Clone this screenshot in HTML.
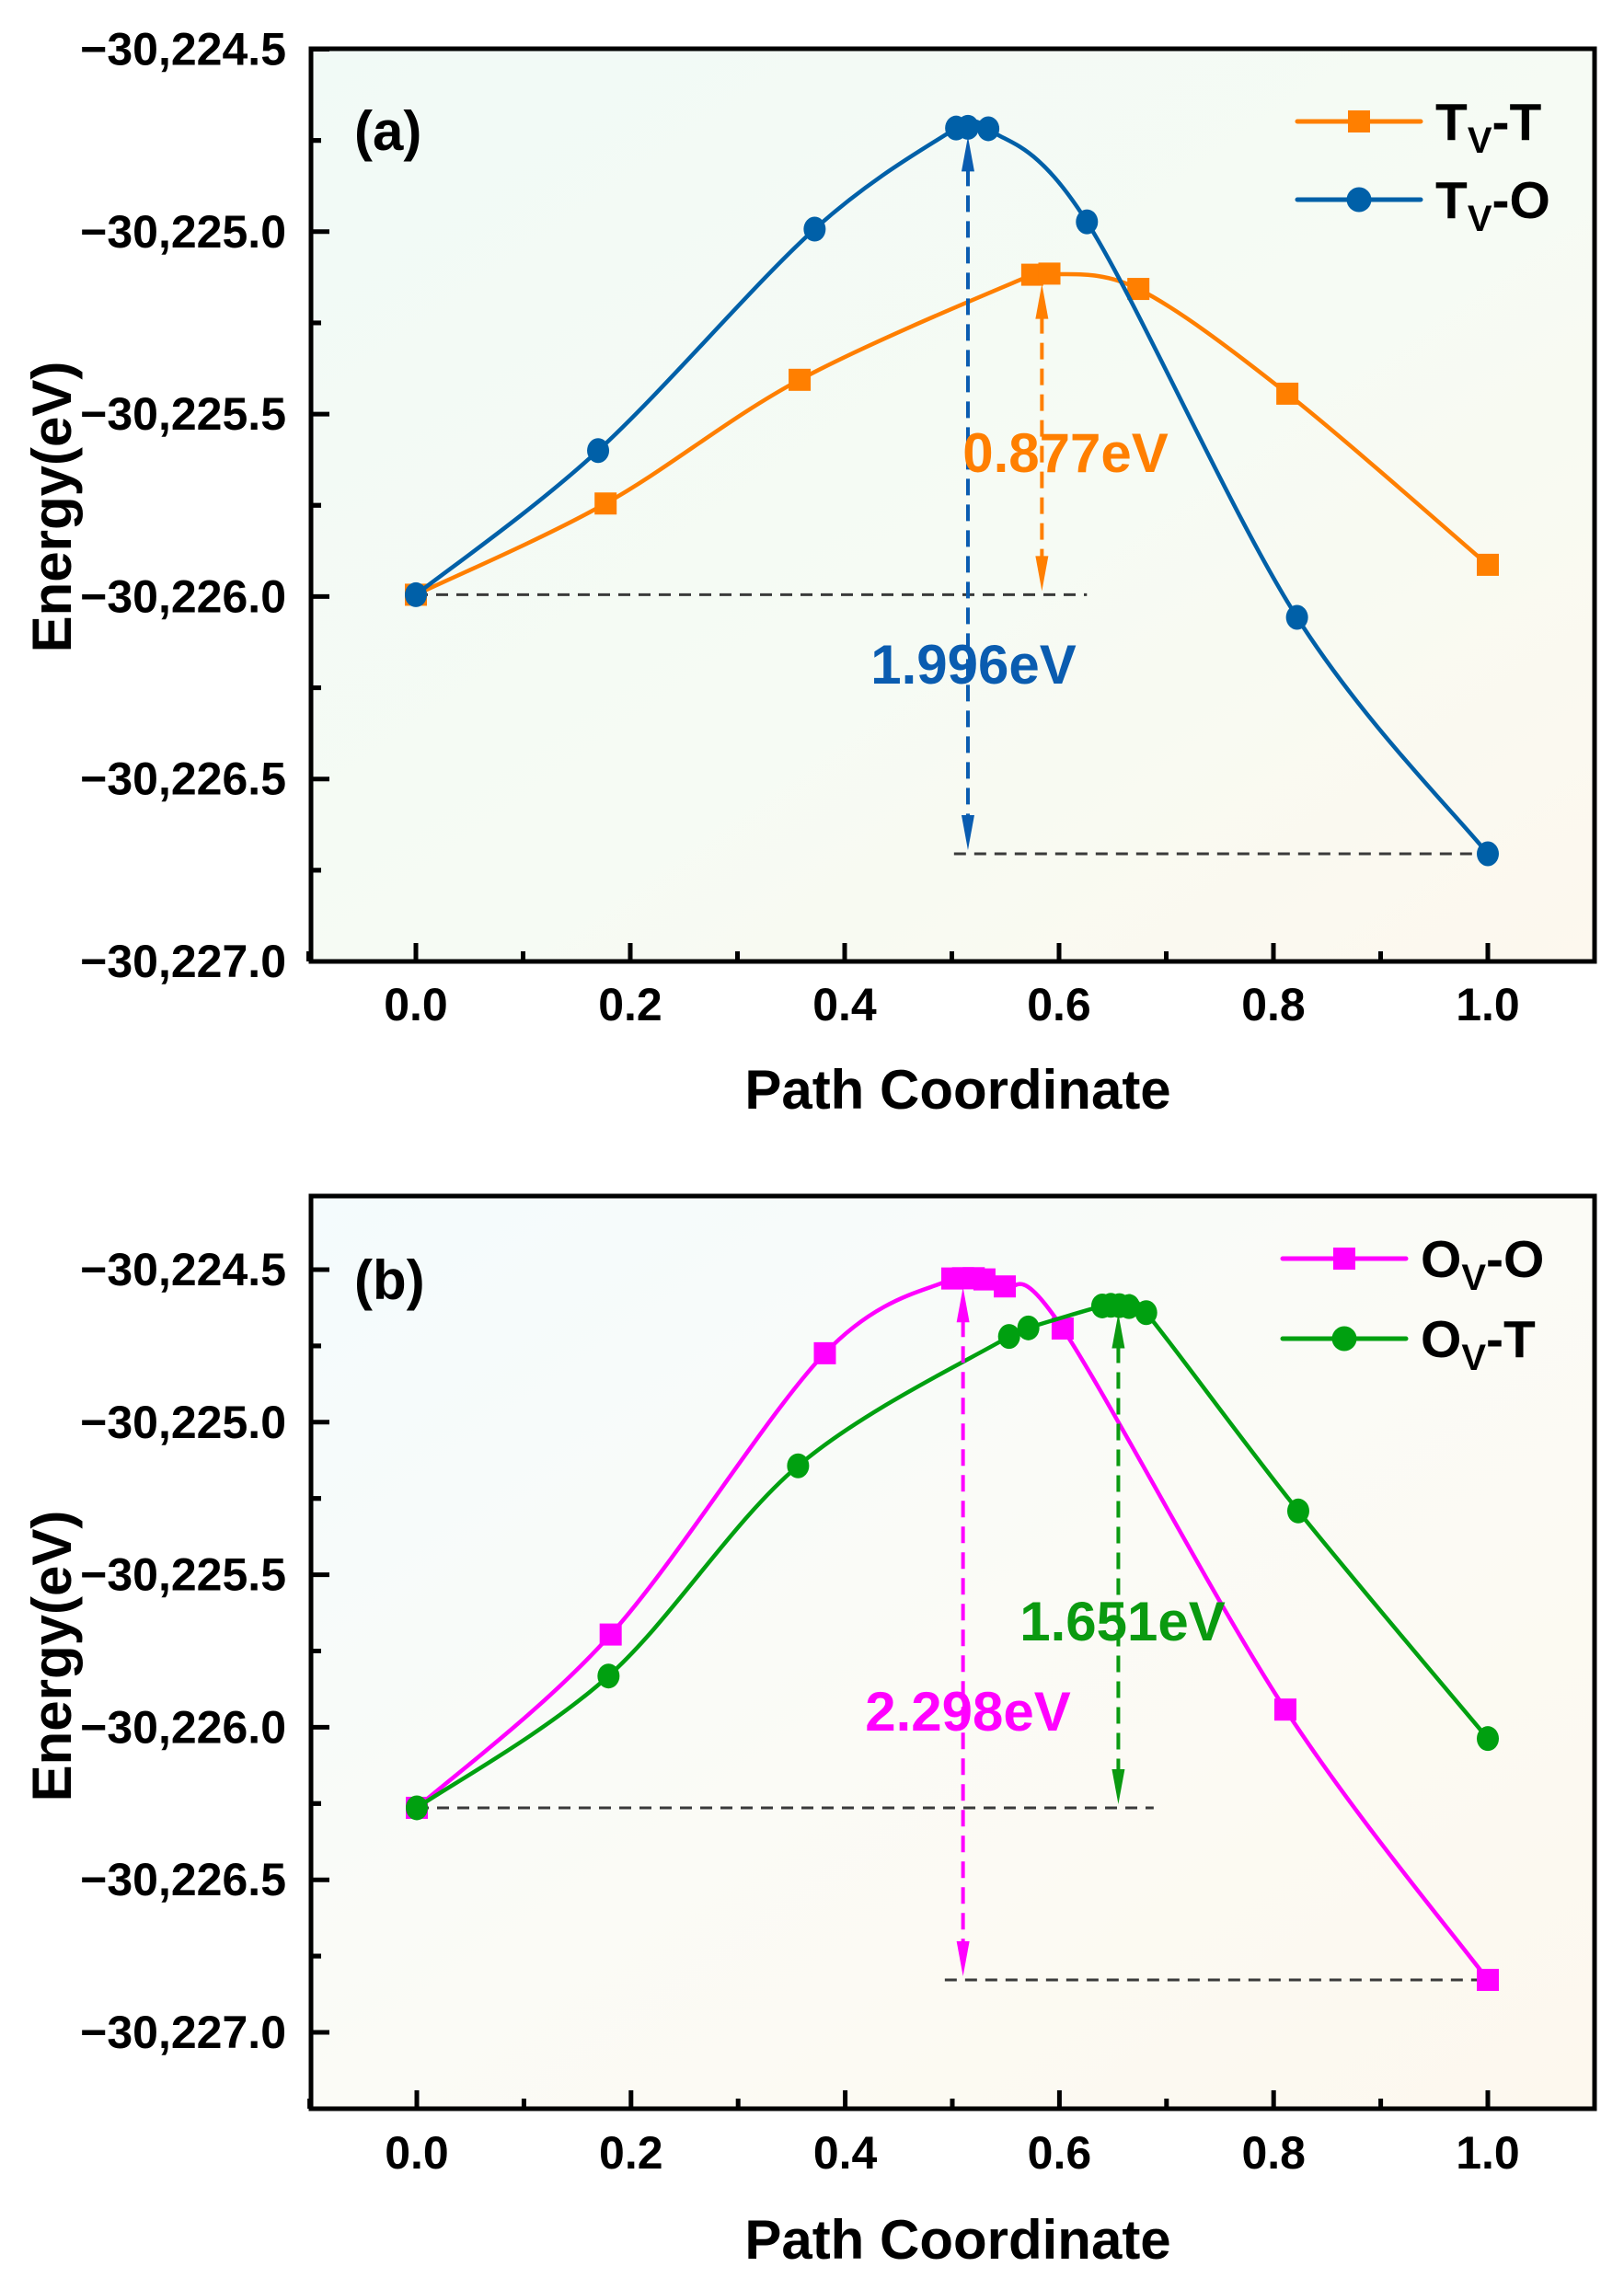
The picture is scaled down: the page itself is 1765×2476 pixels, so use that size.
<!DOCTYPE html>
<html><head><meta charset="utf-8"><style>
html,body{margin:0;padding:0;background:#fff;}
svg{display:block;font-family:"Liberation Sans",Arial,sans-serif;font-weight:bold;}
</style></head><body>
<svg id="chart" width="1765" height="2476" viewBox="0 0 1765 2476" xmlns="http://www.w3.org/2000/svg">
<defs>
<linearGradient id="bgA" x1="0" y1="0" x2="1" y2="1"><stop offset="0" stop-color="#f1faf6"/><stop offset="0.55" stop-color="#f6fbf4"/><stop offset="1" stop-color="#fdf8ee"/></linearGradient>
<linearGradient id="bgB" x1="0" y1="0" x2="1" y2="1"><stop offset="0" stop-color="#f4fbfd"/><stop offset="0.5" stop-color="#fbfbf6"/><stop offset="1" stop-color="#fdf8ee"/></linearGradient>
</defs>
<g id="panelA"></g>
<g id="panelB"></g>
</svg>
<script>
// ---------- data: panel (a) ----------
const tvT_x = [0, 0.177, 0.358, 0.575, 0.591, 0.674, 0.813, 1.0];
const tvT_y = [-30225.995, -30225.745, -30225.406, -30225.118, -30225.115, -30225.157, -30225.444, -30225.913];
const tvO_x = [0, 0.17, 0.372, 0.504, 0.515, 0.534, 0.626, 0.822, 1.0];
const tvO_y = [-30225.995, -30225.600, -30224.993, -30224.716, -30224.714, -30224.718, -30224.973, -30226.057, -30226.705];
// ---------- data: panel (b) ----------
const ovO_x = [0, 0.181, 0.381, 0.50, 0.51, 0.52, 0.53, 0.549, 0.603, 0.811, 1.0];
const ovO_y = [-30226.264, -30225.696, -30224.774, -30224.529, -30224.528, -30224.528, -30224.532, -30224.555, -30224.693, -30225.942, -30226.828];
const ovT_x = [0, 0.179, 0.356, 0.553, 0.571, 0.640, 0.648, 0.656, 0.665, 0.681, 0.823, 1.0];
const ovT_y = [-30226.264, -30225.832, -30225.143, -30224.719, -30224.691, -30224.619, -30224.617, -30224.618, -30224.621, -30224.641, -30225.291, -30226.037];
const xTicks = [0.0, 0.2, 0.4, 0.6, 0.8, 1.0];
const xTickLabels = ["0.0", "0.2", "0.4", "0.6", "0.8", "1.0"];
const yTicks = [-30224.5, -30225.0, -30225.5, -30226.0, -30226.5, -30227.0];
const yTickLabels = ["\u221230,224.5", "\u221230,225.0", "\u221230,225.5", "\u221230,226.0", "\u221230,226.5", "\u221230,227.0"];
const annA = {base: -30225.995, dE1: 0.877, arrow1X: 0.584, baseEnd: 0.626, low: -30226.705, arrow2X: 0.515, lowStart: 0.502};
const annB = {base: -30226.264, dE1: 1.651, arrow1X: 0.655, baseEnd: 0.688, low: -30226.828, arrow2X: 0.51, lowStart: 0.493};

const NS = "http://www.w3.org/2000/svg";
function mk(tag, attrs, parent) {
  const e = document.createElementNS(NS, tag);
  for (const k in attrs) e.setAttribute(k, attrs[k]);
  parent.appendChild(e);
  return e;
}
function catmull(pts) {
  let d = "M" + pts[0][0] + "," + pts[0][1];
  for (let i = 0; i < pts.length - 1; i++) {
    const p0 = pts[Math.max(i - 1, 0)], p1 = pts[i], p2 = pts[i + 1], p3 = pts[Math.min(i + 2, pts.length - 1)];
    const c1 = [p1[0] + (p2[0] - p0[0]) / 6, p1[1] + (p2[1] - p0[1]) / 6];
    const c2 = [p2[0] - (p3[0] - p1[0]) / 6, p2[1] - (p3[1] - p1[1]) / 6];
    d += " C" + c1[0] + "," + c1[1] + " " + c2[0] + "," + c2[1] + " " + p2[0] + "," + p2[1];
  }
  return d;
}

function panel(g, cfg) {
  const L = 338, R = 1733, T = cfg.top, B = cfg.bottom;
  const X = v => cfg.x0 + (cfg.x1 - cfg.x0) * v;
  const Y = v => cfg.yTop + (cfg.yBot - cfg.yTop) * ((-30224.5 - v) / 2.5);
  const bg = mk("rect", {x: L, y: T, width: R - L, height: B - T, fill: cfg.bg}, g);
  
  
  xTicks.forEach((t, i) => {
    const tk = mk("line", {x1: X(t), x2: X(t), y1: B, y2: B - 20, stroke: "#000", "stroke-width": 5}, g);
    
    
    const lb = mk("text", {x: X(t), y: cfg.xLabY, "font-size": 50, "text-anchor": "middle", fill: "#000"}, g);
    lb.textContent = xTickLabels[i];
    
    
    if (i < xTicks.length - 1) {
      const m = mk("line", {x1: X(t + 0.1), x2: X(t + 0.1), y1: B, y2: B - 11, stroke: "#000", "stroke-width": 5}, g);
      
      
    }
  });
  const m0 = mk("line", {x1: X(-0.1), x2: X(-0.1), y1: B, y2: B - 11, stroke: "#000", "stroke-width": 5}, g);
  
  
  yTicks.forEach((t, i) => {
    const tk = mk("line", {x1: L, x2: L + 20, y1: Y(t), y2: Y(t), stroke: "#000", "stroke-width": 5}, g);
    
    
    const lb = mk("text", {x: 311, y: Y(t) + 17, "font-size": 50, "text-anchor": "end", fill: "#000"}, g);
    lb.textContent = yTickLabels[i];
    
    
    [t - 0.25, t + 0.25].forEach(mv => {
      const yy = Y(mv);
      if (yy > T + 4 && yy < B - 4) {
        const m = mk("line", {x1: L, x2: L + 11, y1: yy, y2: yy, stroke: "#000", "stroke-width": 5}, g);
        
        
      }
    });
  });
  const fr = mk("rect", {x: L, y: T, width: R - L, height: B - T, fill: "none", stroke: "#000", "stroke-width": 5}, g);
  
  
  const xt = mk("text", {x: 1041, y: cfg.xTitleY, "font-size": 60, "text-anchor": "middle", fill: "#000"}, g);
  xt.textContent = "Path Coordinate";
  
  
  const yt = mk("text", {x: 0, y: 0, "font-size": 60, "text-anchor": "middle", fill: "#000", transform: "translate(77," + cfg.yTitleC + ") rotate(-90)"}, g);
  yt.textContent = "Energy(eV)";
  
  
  const pl = mk("text", {x: 385, y: cfg.labelY, "font-size": 60, fill: "#000"}, g);
  pl.textContent = cfg.label;
  
  
  const a = cfg.ann;
  const d1 = mk("line", {x1: X(0), x2: X(a.baseEnd), y1: Y(a.base), y2: Y(a.base), stroke: "#3a3a3a", "stroke-width": 3, "stroke-dasharray": "13,9"}, g);
  
  
  const d2 = mk("line", {x1: X(a.lowStart), x2: X(1), y1: Y(a.low), y2: Y(a.low), stroke: "#3a3a3a", "stroke-width": 3, "stroke-dasharray": "13,9"}, g);
  
  
  cfg.series.forEach(s => {
    const pts = s.x.map((v, i) => [X(v), Y(s.y[i])]);
    const p = mk("path", {d: catmull(pts), fill: "none", stroke: s.color, "stroke-width": 4.5}, g);
    
    
    pts.forEach(q => {
      let m;
      if (s.marker === "sq") m = mk("rect", {x: q[0] - 12, y: q[1] - 12, width: 24, height: 24, fill: s.color}, g);
      else m = mk("ellipse", {cx: q[0], cy: q[1], rx: 12, ry: 13.5, fill: s.color}, g);
      
      
    });
  });
  function arrow(x, yA, yB, color, name) {
    const ga = mk("g", {}, g);
    
    
    mk("line", {x1: x, x2: x, y1: yA + 40, y2: yB - 40, stroke: color, "stroke-width": 4, "stroke-dasharray": "18,10"}, ga);
    mk("polygon", {points: (x - 7) + "," + (yA + 42) + " " + (x + 7) + "," + (yA + 42) + " " + x + "," + (yA + 4), fill: color}, ga);
    mk("polygon", {points: (x - 7) + "," + (yB - 42) + " " + (x + 7) + "," + (yB - 42) + " " + x + "," + (yB - 4), fill: color}, ga);
  }
  arrow(X(a.arrow1X), Y(a.base + a.dE1) + 6, Y(a.base), cfg.c1, "barrier-arrow-1");
  arrow(X(a.arrow2X), Y(Math.max(...cfg.peak2)) + 6, Y(a.low), cfg.c2, "barrier-arrow-2");
  cfg.texts.forEach(t => {
    const tx = mk("text", {x: t.x, y: t.y, "font-size": 60, "text-anchor": "middle", fill: t.c}, g);
    tx.textContent = t.s;
    
    
  });
  cfg.series.forEach((s, i) => {
    const ly = cfg.legY[i];
    const lg = mk("g", {}, g);
    
    
    mk("line", {x1: cfg.legX, x2: cfg.legX + 134, y1: ly, y2: ly, stroke: s.color, "stroke-width": 5, "stroke-linecap": "round"}, lg);
    if (s.marker === "sq") mk("rect", {x: cfg.legX + 55, y: ly - 12, width: 24, height: 24, fill: s.color}, lg);
    else mk("circle", {cx: cfg.legX + 67, cy: ly, r: 13.5, fill: s.color}, lg);
    const t = mk("text", {x: cfg.legX + 150, y: ly + 20, "font-size": 57, fill: "#000"}, lg);
    const t1 = mk("tspan", {}, t); t1.textContent = s.lab[0];
    const t2 = mk("tspan", {"font-size": 40, dy: 14}, t); t2.textContent = "V";
    const t3 = mk("tspan", {dy: -14}, t); t3.textContent = s.lab[1];
  });
}

panel(document.getElementById("panelA"), {
  top: 53, bottom: 1045, yTop: 53.5, yBot: 1045, x0: 452, x1: 1617, bg: "url(#bgA)",
  xLabY: 1109, xTitleY: 1205, yTitleC: 551, label: "(a)", labelY: 163,
  ann: annA, c1: "#ff7f00", c2: "#0a5cb0", peak2: tvO_y,
  series: [
    {name: "tv-t", x: tvT_x, y: tvT_y, color: "#ff7f00", marker: "sq", lab: ["T", "-T"]},
    {name: "tv-o", x: tvO_x, y: tvO_y, color: "#0060a8", marker: "ci", lab: ["T", "-O"]}
  ],
  texts: [{x: 1158, y: 513, s: "0.877eV", c: "#ff7f00"}, {x: 1058, y: 743, s: "1.996eV", c: "#0a5cb0"}],
  legX: 1410, legY: [132, 217]
});
panel(document.getElementById("panelB"), {
  top: 1300, bottom: 2292, yTop: 1380, yBot: 2209, x0: 453, x1: 1617, bg: "url(#bgB)",
  xLabY: 2357, xTitleY: 2455, yTitleC: 1800, label: "(b)", labelY: 1412,
  ann: annB, c1: "#0a9a10", c2: "#ff00ff", peak2: ovO_y,
  series: [
    {name: "ov-o", x: ovO_x, y: ovO_y, color: "#ff00ff", marker: "sq", lab: ["O", "-O"]},
    {name: "ov-t", x: ovT_x, y: ovT_y, color: "#00a010", marker: "ci", lab: ["O", "-T"]}
  ],
  texts: [{x: 1220, y: 1783, s: "1.651eV", c: "#0a9a10"}, {x: 1052, y: 1881, s: "2.298eV", c: "#ff00ff"}],
  legX: 1394, legY: [1368, 1455]
});
</script>
</body></html>
